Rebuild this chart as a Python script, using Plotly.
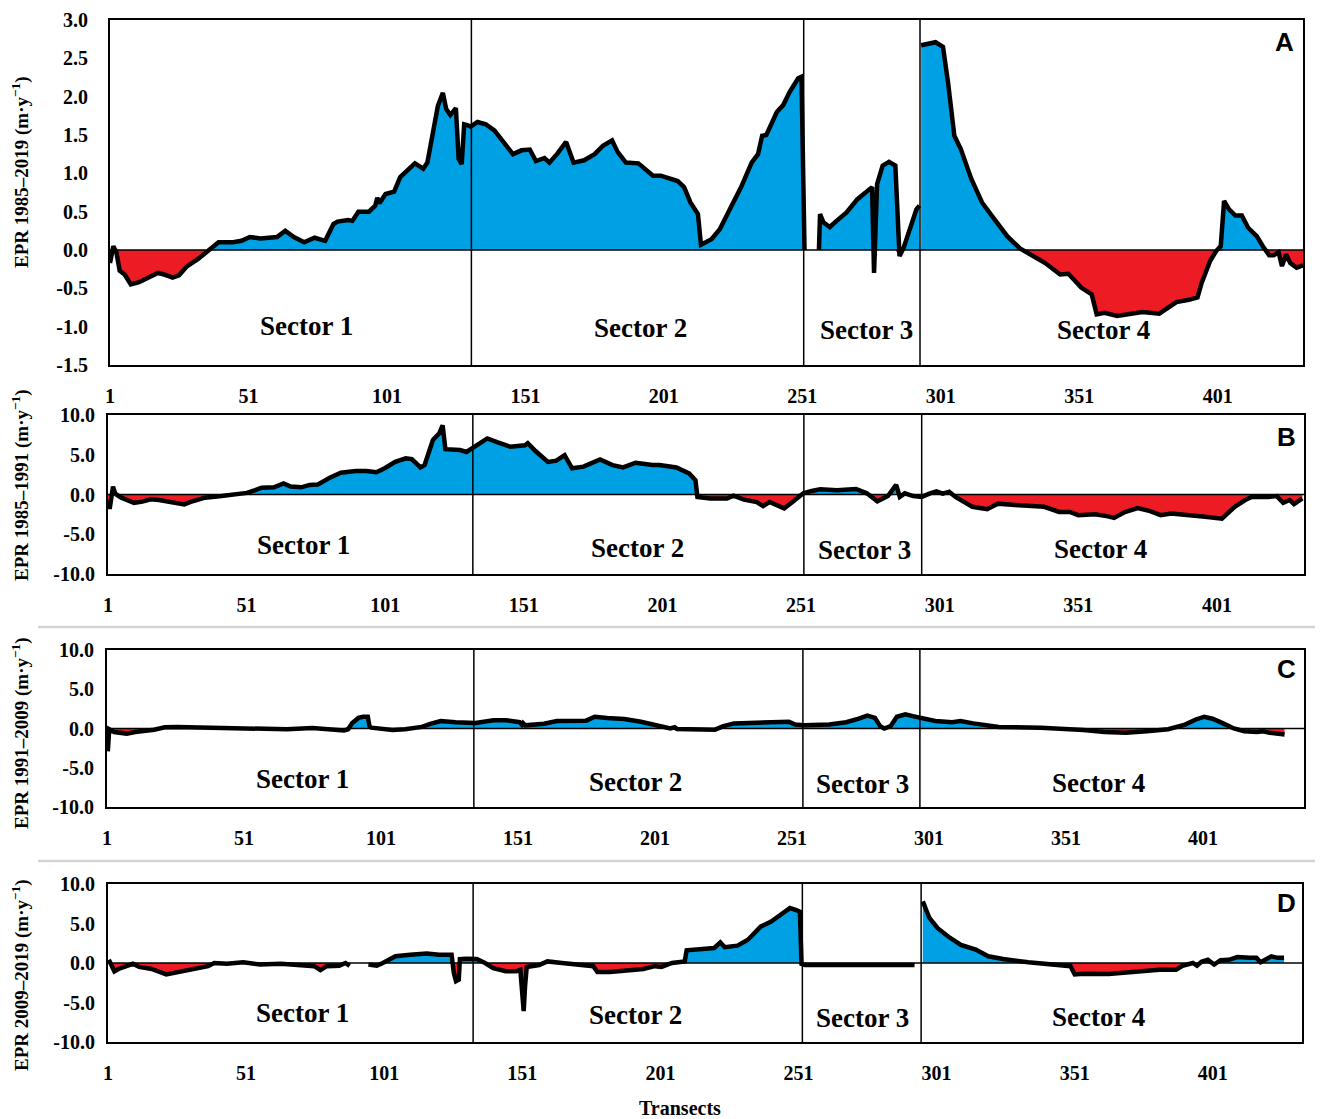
import plotly.graph_objects as go

W, H = 1323, 1119

# ---------------- data (transect, EPR m/yr) ----------------
transects_A = [1, 2.2, 3.3, 4.5, 6.3, 8.5, 11.5, 14.6, 18.3, 20.6,
               23.6, 25.9, 28.9, 32.7, 35.7, 37.2, 40.2, 45.5, 48.5, 51.5,
               55.3, 61.3, 64.3, 67.4, 71.1, 74.9, 78.7, 81.7, 83.2, 87.0,
               88.5, 90.7, 94.5, 96.8, 97.5, 98.3, 100.5, 103.6, 105.8, 108.1,
               111.1, 114.1, 115.6, 119.4, 121.2, 122.4, 123.9, 125.9, 126.9, 128.0,
               128.9, 130.0, 131.2, 133.7, 136.7, 139.8, 142.0, 146.5, 149.6, 152.6,
               154.8, 157.9, 159.7, 162.4, 165.7, 168.4, 172.2, 176.0, 179.0, 182.3,
               184.3, 187.3, 191.8, 197.1, 199.9, 202.9, 206.0, 208.3, 210.6, 213.3,
               214.4, 218.2, 221.2, 225.1, 228.9, 232.7, 235.0, 236.5, 238.0, 241.8,
               244.1, 246.4, 249.5, 250.7, 251.8, 254.0, 257.0, 257.4, 258.6, 260.9,
               264.0, 267.0, 270.8, 273.9, 276.2, 276.9, 278.0, 280.0, 282.3, 284.6,
               286.1, 287.6, 289.9, 292.2, 293.3, 293.6, 293.9, 299.1, 301.8, 303.6,
               305.9, 308.2, 312.0, 315.9, 320.4, 325.0, 329.6, 333.4, 338.7, 344.1,
               347.1, 351.7, 355.5, 357.3, 360.1, 364.7, 369.2, 373.8, 379.9, 383.0,
               386.1, 390.6, 393.7, 395.2, 398.3, 400.5, 402.1, 403.3, 405.1, 407.4,
               409.7, 412.0, 415.1, 417.3, 419.6, 421.2, 423.0, 424.2, 425.7, 427.2,
               429.5, 431.8]
epr_A = [-0.17, 0.05, -0.03, -0.27, -0.32, -0.45, -0.42, -0.36, -0.30, -0.32,
         -0.36, -0.33, -0.21, -0.12, -0.035, 0.02, 0.10, 0.10, 0.12, 0.17,
         0.15, 0.17, 0.25, 0.17, 0.10, 0.16, 0.12, 0.34, 0.37, 0.39,
         0.38, 0.50, 0.50, 0.58, 0.68, 0.61, 0.73, 0.76, 0.95, 1.03,
         1.13, 1.06, 1.14, 1.88, 2.05, 1.84, 1.76, 1.85, 1.19, 1.12,
         1.64, 1.63, 1.61, 1.67, 1.64, 1.56, 1.45, 1.25, 1.30, 1.31,
         1.16, 1.20, 1.14, 1.25, 1.41, 1.14, 1.17, 1.25, 1.36, 1.43,
         1.28, 1.14, 1.13, 0.97, 0.97, 0.93, 0.90, 0.82, 0.62, 0.47,
         0.07, 0.14, 0.27, 0.55, 0.82, 1.14, 1.25, 1.49, 1.50, 1.80,
         1.89, 2.06, 2.24, 2.26, 0.0, None, 0.0, 0.47, 0.36, 0.30,
         0.40, 0.49, 0.66, 0.75, 0.82, -0.30, 0.86, 1.10, 1.15, 1.10,
         -0.08, 0.03, 0.27, 0.53, 0.58, None, 2.67, 2.71, 2.65, 2.19,
         1.49, 1.32, 0.93, 0.62, 0.40, 0.18, 0.02, -0.06, -0.17, -0.32,
         -0.31, -0.49, -0.58, -0.84, -0.82, -0.86, -0.83, -0.81, -0.83, -0.76,
         -0.68, -0.65, -0.62, -0.43, -0.14, -0.01, 0.05, 0.64, 0.53, 0.45,
         0.45, 0.29, 0.18, 0.05, -0.07, -0.07, -0.03, -0.21, -0.06, -0.17,
         -0.23, -0.20]

transects_B = [1, 1.6, 2.8, 3.6, 5.8, 10.4, 13.4, 16.4, 19.4, 23.9,
               28.5, 31.5, 36.0, 42.0, 46.5, 51.1, 54.1, 56.4, 60.9, 64.3,
               66.9, 70.7, 73.7, 76.7, 81.2, 85.0, 90.3, 94.1, 97.8, 100.8,
               104.6, 108.4, 110.6, 113.7, 115.2, 118.2, 120.5, 121.7, 122.7, 125.7,
               128.0, 130.3, 133.3, 137.8, 141.6, 146.1, 151.4, 152.4, 155.1, 159.7,
               162.7, 165.7, 168.4, 172.5, 178.5, 183.0, 186.8, 191.3, 197.4, 199.9,
               206.0, 210.6, 212.9, 213.6, 218.2, 224.3, 226.6, 230.4, 235.0, 237.3,
               239.6, 241.8, 244.9, 247.9, 251.8, 254.8, 257.9, 264.0, 270.8, 274.7,
               278.5, 282.3, 285.3, 286.6, 288.4, 291.4, 294.5, 297.5, 299.8, 302.1,
               304.4, 306.7, 312.8, 318.1, 322.0, 329.6, 338.7, 344.1, 347.9, 351.0,
               357.1, 361.7, 363.9, 367.8, 372.4, 376.9, 380.7, 384.5, 389.1, 396.7,
               402.8, 407.4, 411.2, 413.5, 419.6, 422.6, 424.9, 427.2, 428.8, 431.8]
epr_B = [-0.7, -1.8, 1.0, 0.1, -0.4, -1.05, -0.9, -0.6, -0.7, -1.0,
         -1.25, -0.85, -0.4, -0.2, 0.05, 0.2, 0.55, 0.85, 0.9, 1.4,
         1.0, 0.9, 1.2, 1.25, 2.15, 2.75, 2.95, 2.95, 2.8, 3.3,
         4.1, 4.55, 4.45, 3.4, 3.7, 6.85, 7.7, 8.7, 5.7, 5.7,
         5.6, 5.35, 6.0, 7.05, 6.55, 6.0, 6.2, 6.45, 5.5, 4.1,
         4.25, 4.95, 3.3, 3.5, 4.4, 3.7, 3.4, 4.0, 3.7, 3.7,
         3.4, 2.65, 1.8, -0.3, -0.5, -0.5, -0.15, -0.65, -0.95, -1.45,
         -0.95, -1.25, -1.75, -0.95, 0.15, 0.45, 0.65, 0.55, 0.7, 0.15,
         -0.85, -0.2, 1.2, -0.3, 0.15, -0.2, -0.3, 0.15, 0.4, 0.1,
         0.35, -0.3, -1.55, -1.85, -1.15, -1.35, -1.55, -2.2, -2.2, -2.6,
         -2.5, -2.75, -2.95, -2.2, -1.7, -2.1, -2.6, -2.4, -2.6, -2.8,
         -3.05, -1.55, -0.7, -0.3, -0.3, -0.2, -1.05, -0.7, -1.2, -0.5]

transects_C = [1.3, 1.8, 3.6, 8.2, 11.3, 15.2, 18.2, 22.1, 26.7, 39.0,
               54.4, 66.7, 75.9, 83.6, 87.5, 89.0, 90.5, 92.8, 94.4, 96.2,
               96.8, 97.5, 105.2, 109.8, 115.9, 119.0, 122.8, 128.2, 135.5, 142.1,
               146.7, 151.6, 152.4, 152.8, 153.6, 160.5, 165.2, 175.9, 179.0, 183.6,
               189.8, 195.9, 202.1, 206.6, 208.2, 209.0, 222.9, 226.0, 229.8, 241.4,
               249.9, 252.2, 255.3, 264.6, 270.8, 275.4, 278.5, 281.3, 283.2, 284.7,
               287.0, 289.3, 292.4, 295.5, 298.6, 303.3, 309.5, 312.5, 317.2, 326.5,
               341.9, 349.7, 357.4, 365.1, 372.8, 380.6, 388.3, 394.5, 398.4, 401.5,
               404.5, 408.4, 412.3, 416.1, 420.7, 423.0, 425.4, 430.8]
epr_C = [-2.9, -0.1, -0.45, -0.65, -0.45, -0.35, -0.15, 0.15, 0.2, 0.1,
         0.0, -0.1, 0.05, -0.15, -0.25, -0.1, 0.7, 1.35, 1.5, 1.5,
         0.3, 0.1, -0.2, -0.1, 0.2, 0.6, 0.95, 0.8, 0.7, 1.05,
         1.05, 0.8, 0.5, 0.7, 0.4, 0.6, 0.95, 1.0, 1.5, 1.35,
         1.2, 0.85, 0.3, 0.0, 0.15, -0.05, -0.15, 0.3, 0.65, 0.7,
         0.85, 0.5, 0.4, 0.5, 0.8, 1.25, 1.65, 1.35, 0.3, 0.0,
         0.3, 1.5, 1.8, 1.55, 1.35, 0.95, 0.8, 0.95, 0.65, 0.2,
         0.1, 0.0, -0.2, -0.45, -0.55, -0.35, -0.1, 0.5, 1.15, 1.5,
         1.25, 0.65, 0.0, -0.35, -0.45, -0.35, -0.55, -0.75]

transects_D = [1.3, 2.0, 3.3, 4.8, 7.0, 10.0, 12.3, 16.8, 22.1, 27.4,
               33.4, 37.2, 39.5, 44.0, 50.0, 56.0, 63.6, 71.1, 75.7, 77.9,
               80.2, 84.7, 87.0, 88.5, 92.0, 95.3, 98.3, 100.5, 102.8, 105.1,
               110.4, 116.4, 120.9, 124.7, 125.4, 126.2, 127.0, 128.0, 128.4, 130.7,
               134.5, 137.5, 140.5, 145.0, 148.8, 150.3, 151.1, 151.5, 152.0, 152.6,
               157.1, 160.1, 165.4, 173.7, 176.7, 178.2, 182.7, 188.8, 194.8, 199.0,
               201.4, 205.2, 209.8, 210.5, 216.6, 220.5, 222.7, 224.3, 228.9, 232.7,
               237.3, 241.1, 244.9, 247.9, 250.2, 251.5, 252.1, 253.3, 293.0, 294.5,
               296.0, 298.4, 301.4, 305.2, 309.8, 315.2, 319.7, 325.1, 334.2, 344.9,
               349.5, 351.0, 354.1, 363.3, 374.0, 381.6, 387.7, 390.0, 393.8, 395.3,
               396.9, 399.2, 401.5, 403.8, 406.8, 409.9, 414.5, 416.8, 418.3, 419.9,
               422.2, 424.5, 426.8]
epr_D = [0.4, -0.2, -1.05, -0.75, -0.5, -0.1, -0.5, -0.75, -1.45, -1.05,
         -0.65, -0.4, 0.0, -0.1, 0.1, -0.2, -0.1, -0.35, -0.4, -0.9,
         -0.4, -0.35, 0.0, -0.35, None, -0.2, -0.35, 0.0, 0.4, 0.85,
         1.05, 1.2, 1.05, 1.15, 1.05, -1.25, -2.3, -2.1, 0.5, 0.55,
         0.5, 0.0, -0.65, -1.05, -1.05, -0.85, -3.8, -6.1, -2.95, -0.5,
         -0.25, 0.2, 0.0, -0.2, -0.4, -1.15, -1.15, -0.95, -0.75, -0.4,
         -0.5, 0.0, 0.2, 1.6, 1.7, 1.9, 2.6, 2.0, 2.2, 2.95,
         4.6, 5.25, 6.2, 6.95, 6.7, 6.5, -0.1, -0.25, -0.25, None,
         7.8, 5.7, 4.4, 3.35, 2.3, 1.7, 0.85, 0.5, 0.1, -0.2,
         -0.4, -1.45, -1.35, -1.4, -1.05, -0.85, -0.85, -0.35, 0.0, -0.35,
         0.15, 0.4, -0.2, 0.35, 0.4, 0.75, 0.65, 0.65, 0.1, 0.4,
         0.85, 0.65, 0.65]

y_titles = ["EPR 1985–2019 (m·y<sup>−1</sup>)", "EPR 1985–1991 (m·y<sup>−1</sup>)",
            "EPR 1991–2009 (m·y<sup>−1</sup>)", "EPR 2009–2019 (m·y<sup>−1</sup>)"]
panel_letters = ["A", "B", "C", "D"]
sector_names = ["Sector 1", "Sector 2", "Sector 3", "Sector 4"]
x_tickvals = [1, 51, 101, 151, 201, 251, 301, 351, 401]
x_ticktext = [str(v) for v in x_tickvals]
yticks_A = [-1.5, -1.0, -0.5, 0.0, 0.5, 1.0, 1.5, 2.0, 2.5, 3.0]
yticks_BCD = [-10.0, -5.0, 0.0, 5.0, 10.0]

# sector boundaries (transect) as drawn in each panel
sector_bounds = [[131.5, 251.5, 293.5], [132.6, 252.0, 294.5],
                 [134.9, 255.0, 297.7], [133.2, 252.4, 295.4]]

BLUE = "#00A1E4"
RED = "#ED1C24"
SERIF = "Times New Roman, Liberation Serif, serif"
SANS = "Arial, Liberation Sans, sans-serif"

# ---------------- layout geometry (page pixels) ----------------
OFF = 8  # default page body margin
x_px = [(110, 1303), (108, 1304), (107, 1304), (108, 1302)]
y_px = [(20, 365), (415, 574), (650, 807), (884, 1042)]
x_ranges = [[1, 431.8], [1, 432.4], [1, 437.9], [1, 433.3]]
y_ranges = [[-1.5, 3.0], [-10, 10], [-10, 10], [-10, 10]]
ystandoff = [16, 7, 7, 7]

def px(xp):
    return (xp - OFF) / W

def py(yp):
    return 1 - (yp - OFF) / H

def segments(t, v):
    """Split a series at gaps (None) into contiguous pieces."""
    segs, cur_t, cur_v = [], [], []
    for a, b in zip(t, v):
        if b is None:
            if cur_t:
                segs.append((cur_t, cur_v))
            cur_t, cur_v = [], []
        else:
            cur_t.append(a)
            cur_v.append(b)
    if cur_t:
        segs.append((cur_t, cur_v))
    return segs

panels = [(transects_A, epr_A), (transects_B, epr_B),
          (transects_C, epr_C), (transects_D, epr_D)]

fig = go.Figure()
shapes = []
annotations = []
layout_axes = {}

for i, (t, v) in enumerate(panels):
    n = "" if i == 0 else str(i + 1)
    xa, ya = "x" + n, "y" + n
    for st, sv in segments(t, v):
        pos = [max(y, 0) for y in sv]
        neg = [min(y, 0) for y in sv]
        fig.add_trace(go.Scatter(x=st, y=pos, mode="lines", fill="tozeroy", fillcolor=BLUE,
                                 line=dict(width=0, color=BLUE), xaxis=xa, yaxis=ya,
                                 hoverinfo="skip"))
        fig.add_trace(go.Scatter(x=st, y=neg, mode="lines", fill="tozeroy", fillcolor=RED,
                                 line=dict(width=0, color=RED), xaxis=xa, yaxis=ya,
                                 hoverinfo="skip"))

    yt = yticks_A if i == 0 else yticks_BCD
    layout_axes["xaxis" + n] = dict(
        domain=[px(x_px[i][0]), px(x_px[i][1])], anchor=ya, range=x_ranges[i],
        tickvals=x_tickvals, ticktext=x_ticktext, ticks="", showgrid=False,
        zeroline=False, showline=True, linecolor="black", linewidth=2, mirror=True,
        automargin=False,
        tickfont=dict(family=SERIF, size=20, color="black", weight="bold"),
        ticklabelstandoff=12)
    layout_axes["yaxis" + n] = dict(
        domain=[py(y_px[i][1]), py(y_px[i][0])], anchor=xa, range=y_ranges[i],
        tickvals=yt, ticktext=["%.1f" % k for k in yt], ticks="", showgrid=False,
        zeroline=False, showline=True, linecolor="black", linewidth=2, mirror=True,
        automargin=False,
        tickfont=dict(family=SERIF, size=20, color="black", weight="bold"),
        ticklabelstandoff=ystandoff[i])

    # zero line
    shapes.append(dict(type="line", xref=xa + " domain", yref=ya, x0=0, x1=1, y0=0, y1=0,
                       line=dict(color="black", width=1.5), layer="above"))
    # sector boundaries
    for b in sector_bounds[i]:
        shapes.append(dict(type="line", xref=xa, yref=ya + " domain", x0=b, x1=b, y0=0, y1=1,
                           line=dict(color="black", width=1.5), layer="above"))

    fig.add_trace(go.Scatter(x=t, y=v, mode="lines", line=dict(color="black", width=4.5),
                             xaxis=xa, yaxis=ya, connectgaps=False, hoverinfo="skip"))

# gray separators between panels
for yp in (627, 861):
    shapes.append(dict(type="line", xref="paper", yref="paper", x0=px(38), x1=1,
                       y0=py(yp), y1=py(yp), line=dict(color="#d4d4d4", width=2.5)))

# y-axis titles
ytitle_pos = [(21, 172), (20, 485), (20, 733), (21, 975)]
for (xp, yp), txt in zip(ytitle_pos, y_titles):
    annotations.append(dict(x=px(xp), y=py(yp), xref="paper", yref="paper", text=txt,
                            textangle=-90, showarrow=False, xanchor="center", yanchor="middle",
                            font=dict(family=SERIF, size=19, color="black", weight="bold")))

# sector labels
sector_pos = [[(306, 326), (640, 328), (866, 330), (1103, 330)],
              [(303, 545), (637, 548), (864, 550), (1100, 549)],
              [(302, 779), (635, 782), (862, 784), (1098, 783)],
              [(302, 1013), (635, 1015), (862, 1018), (1098, 1017)]]
for row in sector_pos:
    for (xp, yp), name in zip(row, sector_names):
        annotations.append(dict(x=px(xp), y=py(yp), xref="paper", yref="paper", text=name,
                                showarrow=False, xanchor="center", yanchor="middle",
                                font=dict(family=SERIF, size=27, color="black", weight="bold")))

# panel letters
letter_pos = [(1284, 42), (1286, 437), (1286, 669), (1286, 903)]
for (xp, yp), L in zip(letter_pos, panel_letters):
    annotations.append(dict(x=px(xp), y=py(yp), xref="paper", yref="paper", text=L,
                            showarrow=False, xanchor="center", yanchor="middle",
                            font=dict(family=SANS, size=26, color="black", weight="bold")))

# x-axis title
annotations.append(dict(x=px(680), y=py(1108), xref="paper", yref="paper", text="Transects",
                        showarrow=False, xanchor="center", yanchor="middle",
                        font=dict(family=SERIF, size=20, color="black", weight="bold")))

fig.update_layout(width=W, height=H, margin=dict(l=0, r=0, t=0, b=0, autoexpand=False),
                  paper_bgcolor="white", plot_bgcolor="white", showlegend=False,
                  shapes=shapes, annotations=annotations, **layout_axes)

fig.write_html("out.html")
